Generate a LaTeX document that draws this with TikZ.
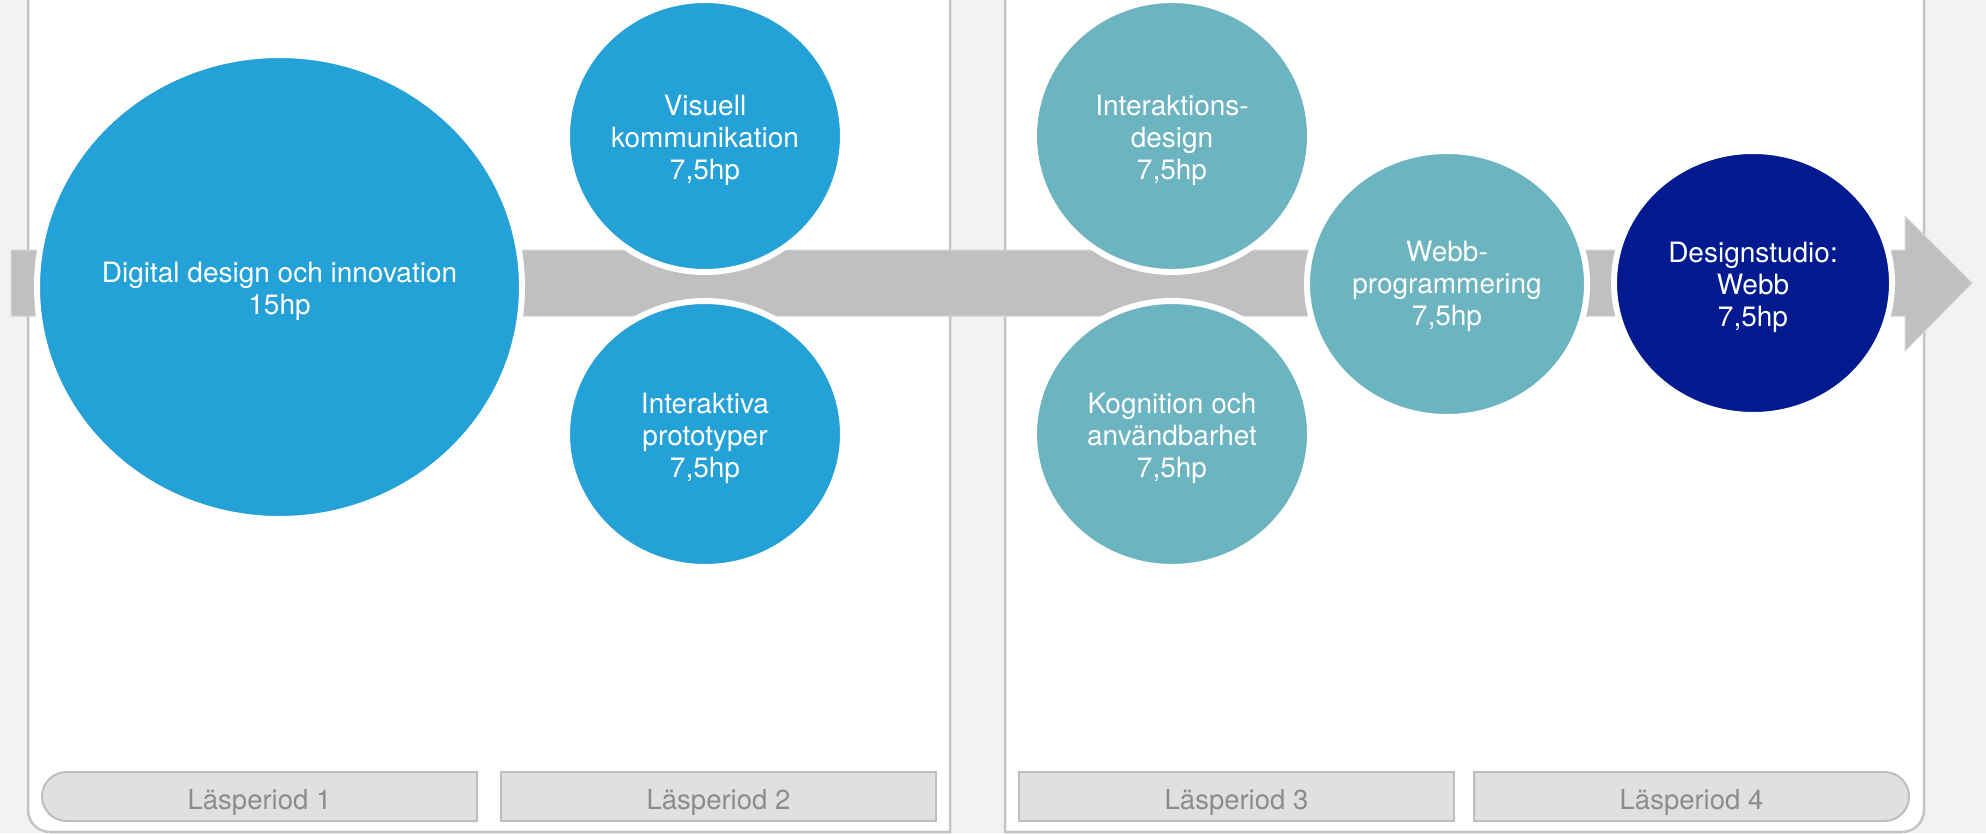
\documentclass[tikz,border=0pt]{standalone}
\usepackage{fontspec}
\setmainfont{TeX Gyre Heros}
\usetikzlibrary{shapes.geometric}
\definecolor{bg}{RGB}{242,242,244}
\definecolor{pborder}{RGB}{196,196,196}
\definecolor{cblue}{RGB}{36,161,214}
\definecolor{cteal}{RGB}{107,180,192}
\definecolor{cnavy}{RGB}{1,26,144}
\definecolor{bandcol}{RGB}{192,192,192}
\definecolor{bandedge}{RGB}{214,214,214}
\definecolor{boxfill}{RGB}{224,224,224}
\definecolor{boxedge}{RGB}{190,190,190}
\definecolor{boxtext}{RGB}{140,140,140}
\begin{document}
\begin{tikzpicture}[x=1pt,y=-1pt,
  panel/.style={fill=white,draw=pborder,line width=2.5pt},
  course/.style={ellipse,draw=white,line width=6pt,inner sep=0pt,outer sep=0pt},
  ctext/.style={text=white,align=center,inner sep=0pt,font=\fontsize{28}{32}\selectfont,yshift=-4pt},
  pbox/.style={fill=boxfill,draw=boxedge,line width=2pt},
  ptext/.style={text=boxtext,inner sep=0pt,anchor=base,font=\fontsize{27.5}{30}\selectfont}]
\fill[bg] (0,0) rectangle (1986,833);
\useasboundingbox (0,0) rectangle (1986,833);
% panels
\draw[panel] (950,-30) -- (950,832) -- (50,832) .. controls (37.85,832) and (28,822.15) .. (28,810) -- (28,-30) -- cycle;
\draw[panel] (1005,-30) -- (1005,832) -- (1902,832) .. controls (1914.15,832) and (1924,822.15) .. (1924,810) -- (1924,-30) -- cycle;
% period boxes
\draw[pbox] (477,772) -- (66.5,772) .. controls (53,772) and (42,783) .. (42,796.5) .. controls (42,810) and (53,821) .. (66.5,821) -- (477,821) -- cycle;
\draw[pbox] (501,772) rectangle (936,821);
\draw[pbox] (1019,772) rectangle (1454,821);
\draw[pbox] (1474,772) -- (1884.5,772) .. controls (1898,772) and (1909,783) .. (1909,796.5) .. controls (1909,810) and (1898,821) .. (1884.5,821) -- (1474,821) -- cycle;
\node[ptext] (p1) at (259.5,809) {Läsperiod 1};
\node[ptext] (p2) at (718.5,809) {Läsperiod 2};
\node[ptext] (p3) at (1236.5,809) {Läsperiod 3};
\node[ptext] (p4) at (1691.5,809) {Läsperiod 4};
% band arrow
\draw[fill=bandcol,draw=bandedge,line width=1pt] (11,250) -- (1905,250) -- (1905,216) -- (1972,283) -- (1905,351) -- (1905,316) -- (11,316) -- cycle;
% courses
\node[course,fill=cblue,minimum width=485pt,minimum height=464pt] (dd) at (279.5,287) {};
\node[course,fill=cblue,minimum width=276pt,minimum height=272pt] (vk) at (705,136) {};
\node[course,fill=cblue,minimum width=276pt,minimum height=266pt] (ip) at (705,434) {};
\node[course,fill=cteal,minimum width=276pt,minimum height=272pt] (id) at (1172,136) {};
\node[course,fill=cteal,minimum width=276pt,minimum height=266pt] (kg) at (1172,434) {};
\node[course,fill=cteal,minimum width=280pt,minimum height=266pt] (wp) at (1447,284) {};
\node[course,fill=cnavy,minimum width=278pt,minimum height=264pt] (ds) at (1753,283) {};
\node[ctext] (ddt) at (dd) {Digital design och innovation\\15hp};
\node[ctext] (vkt) at (vk) {Visuell\\kommunikation\\7,5hp};
\node[ctext] (ipt) at (ip) {Interaktiva\\prototyper\\7,5hp};
\node[ctext] (idt) at (id) {Interaktions-\\design\\7,5hp};
\node[ctext] (kgt) at (kg) {Kognition och\\användbarhet\\7,5hp};
\node[ctext,yshift=2pt] (wpt) at (wp) {Webb-\\programmering\\7,5hp};
\node[ctext] (dst) at (ds) {Designstudio:\\Webb\\7,5hp};
\end{tikzpicture}
\end{document}
